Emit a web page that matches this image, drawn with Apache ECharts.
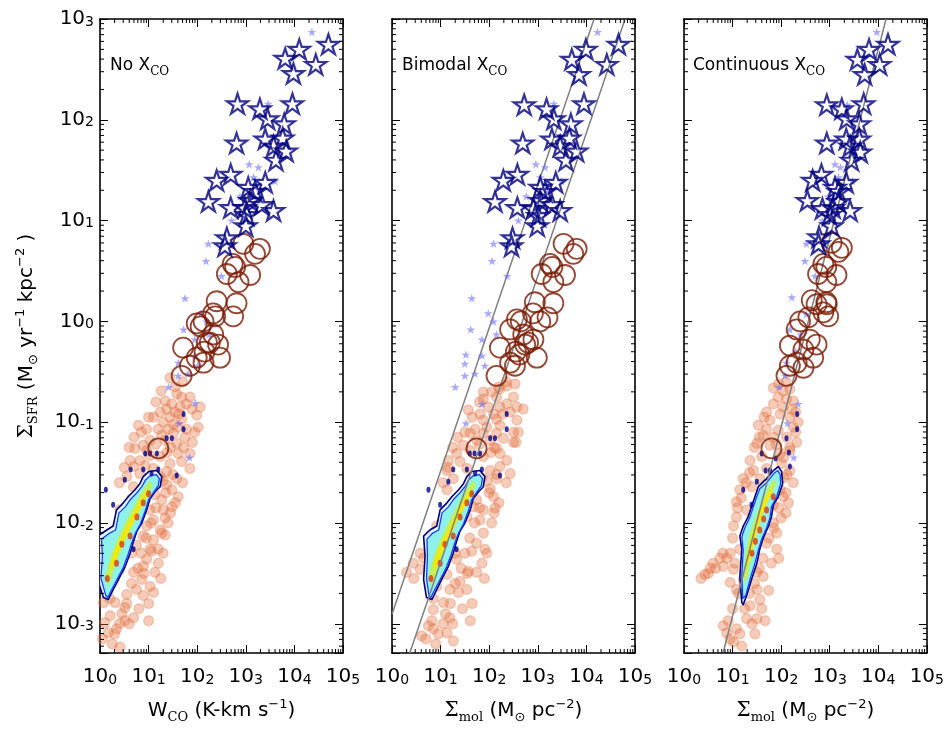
<!DOCTYPE html>
<html><head><meta charset="utf-8">
<script src="https://cdn.jsdelivr.net/npm/echarts@6.0.0/dist/echarts.min.js"></script>
<style>html,body{margin:0;padding:0;background:#fff}#c{width:947px;height:729px}</style>
</head><body><div id="c"></div>
<script>
// ---------- axes / ticks ----------
const X_MIN = 1, X_MAX = 1e5;
const Y_MIN = 0.000513, Y_MAX = 1000;
const X_TICK_EXP = [0, 1, 2, 3, 4, 5];
const Y_TICK_EXP = [-3, -2, -1, 0, 1, 2, 3];
const MINOR_MULT = [2, 3, 4, 5, 6, 7, 8, 9];
const X_MINOR_DECADES = [0, 1, 2, 3, 4];
const Y_MINOR_DECADES = [-4, -3, -2, -1, 0, 1, 2];
const PANEL_NAMES = ['No X', 'Bimodal X', 'Continuous X'];

// ---------- data (log10 x, log10 ΣSFR) ----------
// light orange: sub-kpc disk regions
const orangeLeft = [[1.44,-0.56],[1.26,-0.69],[1.58,-0.72],[1.68,-0.75],[1.34,-0.79],[1.48,-0.82],[1.78,-0.82],[1.65,-0.85],[1.37,-0.87],[1.89,-0.87],[2.06,-0.85],[1.24,-0.90],[1.54,-0.90],[1.44,-0.95],[1.30,-1.00],[1.51,-1.02],[1.10,-0.95],[1.68,-0.97],[1.99,-0.93],[0.79,-1.03],[0.96,-1.07],[1.20,-1.07],[1.41,-1.07],[1.61,-1.05],[1.78,-1.07],[2.02,-1.05],[1.27,-1.13],[1.51,-1.11],[1.03,-1.18],[1.75,-1.15],[0.89,-1.23],[1.34,-1.18],[1.58,-1.21],[0.72,-1.26],[0.96,-1.28],[1.72,-1.25],[0.62,-1.38],[0.82,-1.38],[1.03,-1.33],[1.24,-1.34],[1.61,-1.31],[1.85,-1.31],[0.69,-1.44],[0.93,-1.43],[1.10,-1.46],[1.44,-1.41],[1.68,-1.39],[1.37,-1.49],[1.85,-1.46],[0.55,-1.54],[0.82,-1.51],[1.24,-1.54],[1.58,-1.56],[0.69,-1.64],[0.96,-1.61],[1.37,-1.62],[1.13,-1.72],[1.48,-1.67],[0.65,-1.76],[0.89,-1.74],[1.27,-1.77],[1.61,-1.74],[1.48,-1.84],[1.30,-1.87],[1.03,-1.87],[0.41,-1.87],[0.79,-1.94],[1.10,-1.97],[1.34,-1.95],[0.96,-2.03],[1.24,-2.07],[0.89,-2.13],[1.10,-2.17],[1.34,-2.12],[0.75,-2.22],[1.03,-2.26],[1.27,-2.10],[0.96,-2.36],[1.20,-2.26],[0.89,-2.43],[1.06,-2.28],[1.13,-2.49],[0.69,-2.49],[0.86,-2.56],[1.03,-2.63],[0.75,-2.66],[1.10,-2.69],[0.89,-2.72],[0.55,-2.71],[0.31,-2.79],[0.51,-2.84],[0.21,-2.92],[0.69,-2.94],[1.00,-2.97],[0.51,-2.97],[0.34,-3.05],[0.10,-2.99],[0.17,-3.09],[0.41,-3.23],[0.21,-2.33],[0.41,-2.46],[0.14,-2.59],[0.48,-2.07],[0.75,-1.80],[0.07,-2.79],
  [1.20,-1.55],[1.35,-1.70],[1.15,-1.85],[1.05,-2.00],[0.95,-2.15],[0.85,-2.30],[0.78,-2.45],[0.65,-2.60],[0.55,-2.80],[0.45,-2.90],[0.30,-3.10],[0.60,-3.00],[0.80,-2.85],[1.20,-2.40],[1.30,-2.30],[1.40,-2.00],[1.45,-1.90],[1.55,-1.80],[1.70,-1.60],[1.90,-1.20],[1.95,-1.10],[1.55,-0.65],[1.70,-0.60],[1.15,-0.80],[1.00,-0.95],[0.85,-1.10],[0.70,-1.15],[0.60,-1.25],[0.50,-1.45],[0.40,-1.60],[0.30,-2.55],[0.20,-2.75],[0.05,-3.15],[0.25,-3.20],[1.15,-1.22],[1.38,-1.30],[1.50,-1.52],[1.30,-1.58],[1.62,-0.92],[1.85,-0.75],[1.45,-1.25],[1.10,-1.62],[0.90,-2.50],[0.65,-2.30],[1.25,-2.55],[1.00,-2.80],[0.40,-3.00]];
const orangeMid = [[1.88,-0.70],[2.05,-0.70],[2.22,-0.67],[2.36,-0.64],[2.53,-0.62],[1.88,-0.77],[2.15,-0.75],[2.36,-0.82],[2.57,-0.85],[2.22,-0.85],[1.98,-0.85],[1.81,-0.92],[2.09,-0.92],[2.43,-0.90],[2.70,-0.87],[1.57,-0.88],[1.88,-0.98],[2.15,-0.97],[1.71,-1.07],[1.95,-1.05],[2.22,-1.03],[2.57,-0.98],[1.61,-1.11],[1.88,-1.11],[2.15,-1.11],[2.50,-1.10],[1.74,-1.18],[2.02,-1.18],[2.29,-1.16],[1.47,-1.23],[2.50,-1.20],[1.33,-1.31],[1.61,-1.28],[2.15,-1.26],[1.16,-1.38],[1.40,-1.39],[1.88,-1.34],[2.22,-1.31],[2.36,-1.38],[1.13,-1.48],[1.54,-1.46],[2.02,-1.48],[2.22,-1.44],[1.26,-1.56],[1.74,-1.54],[2.15,-1.56],[2.43,-1.51],[1.13,-1.67],[1.54,-1.67],[2.02,-1.66],[1.74,-1.77],[2.09,-1.74],[1.67,-1.84],[1.88,-1.87],[2.12,-1.85],[1.54,-1.94],[1.81,-1.97],[0.92,-2.03],[0.78,-2.13],[1.88,-2.10],[1.74,-2.20],[1.91,-2.26],[1.64,-2.28],[0.58,-2.30],[0.44,-2.40],[0.30,-2.49],[1.06,-2.26],[1.33,-2.36],[0.58,-2.46],[1.13,-2.51],[1.57,-2.48],[1.74,-2.49],[1.40,-2.58],[0.92,-2.63],[1.19,-2.66],[1.54,-2.66],[1.37,-2.69],[0.78,-2.59],[1.06,-2.79],[0.85,-2.86],[1.19,-2.94],[0.82,-2.97],[1.61,-2.97],[0.85,-3.05],[0.61,-3.12],[1.26,-3.17],[0.75,-3.02],[1.13,-3.09],
  [1.85,-1.55],[2.00,-1.70],[1.80,-1.85],[1.70,-2.00],[1.60,-2.15],[1.50,-2.30],[1.42,-2.45],[1.30,-2.60],[1.20,-2.80],[1.10,-2.90],[0.95,-3.10],[1.25,-3.00],[1.45,-2.85],[1.85,-2.40],[1.95,-2.30],[2.05,-2.00],[2.10,-1.90],[2.20,-1.80],[2.35,-1.60],[2.55,-1.20],[2.60,-1.10],[2.20,-0.65],[2.35,-0.60],[1.80,-0.80],[1.65,-0.95],[1.50,-1.10],[1.35,-1.15],[1.25,-1.25],[1.15,-1.45],[1.05,-1.60],[0.95,-2.55],[0.85,-2.75],[0.70,-3.15],[0.90,-3.20],[1.80,-1.22],[2.03,-1.30],[2.15,-1.52],[1.95,-1.58],[2.27,-0.92],[2.50,-0.75],[2.10,-1.25],[1.75,-1.62],[1.55,-2.50],[1.30,-2.30],[1.90,-2.55],[1.65,-2.80],[1.05,-3.00],[0.45,-2.55],[0.65,-2.35]];
const orangeRight = [[1.84,-0.66],[2.04,-0.69],[2.18,-0.67],[1.94,-0.75],[2.11,-0.77],[2.25,-0.79],[1.84,-0.82],[2.04,-0.85],[2.22,-0.87],[1.70,-0.90],[1.98,-0.92],[2.18,-0.95],[1.77,-0.98],[1.53,-1.03],[1.70,-1.07],[1.94,-1.08],[2.25,-1.05],[1.63,-1.13],[1.84,-1.15],[2.11,-1.15],[2.32,-1.20],[1.50,-1.21],[1.77,-1.23],[2.18,-1.25],[1.36,-1.38],[1.60,-1.34],[1.98,-1.31],[2.18,-1.28],[1.43,-1.48],[1.70,-1.46],[2.01,-1.41],[2.18,-1.48],[1.22,-1.56],[1.56,-1.56],[1.84,-1.54],[1.15,-1.67],[1.39,-1.64],[1.63,-1.71],[1.98,-1.67],[2.04,-1.74],[1.08,-1.79],[1.29,-1.87],[1.84,-1.82],[1.08,-1.94],[1.02,-2.03],[1.84,-2.00],[1.91,-2.10],[1.70,-2.20],[1.91,-2.26],[1.29,-2.13],[1.15,-2.26],[0.88,-2.35],[0.74,-2.35],[0.60,-2.40],[0.54,-2.45],[0.43,-2.51],[0.81,-2.43],[1.02,-2.46],[1.36,-2.43],[1.50,-2.49],[1.63,-2.53],[1.22,-2.56],[0.95,-2.59],[1.50,-2.66],[1.74,-2.67],[1.08,-2.66],[1.56,-2.76],[1.36,-2.82],[0.91,-2.97],[0.81,-3.02],[1.29,-2.95],[1.50,-2.95],[1.67,-2.97],[1.08,-3.05],[0.88,-3.09],[1.46,-3.10],[1.19,-3.22],[1.02,-3.18],
  [2.05,-1.55],[2.10,-1.70],[1.95,-1.85],[1.85,-2.05],[1.75,-2.15],[1.62,-2.35],[1.55,-2.45],[1.45,-2.60],[1.35,-2.70],[1.25,-2.85],[1.15,-3.10],[1.40,-3.00],[1.60,-2.85],[1.80,-2.40],[1.95,-2.35],[2.00,-1.95],[2.10,-1.90],[2.15,-1.80],[2.25,-1.60],[2.30,-1.10],[2.35,-1.00],[1.95,-0.62],[2.10,-0.60],[1.65,-0.95],[1.55,-1.15],[1.45,-1.25],[1.35,-1.50],[1.28,-1.60],[1.18,-1.75],[1.10,-1.85],[1.00,-2.15],[0.95,-2.30],[1.05,-2.40],[1.12,-2.70],[1.00,-2.85],[0.95,-3.15],[1.90,-1.22],[2.05,-1.35],[2.12,-1.52],[1.95,-1.58],[2.30,-0.90],[1.70,-1.62],[1.40,-1.95],[1.30,-2.45],[0.65,-2.45],[0.50,-2.50],[0.35,-2.55],[0.80,-2.30]];

// dark red open circles
const bzkLeft = [[2.95,0.77],[3.29,0.72],[3.19,0.67],[2.73,0.57],[2.78,0.54],[2.61,0.47],[3.09,0.46],[2.85,0.39],[2.40,0.20],[2.81,0.18],[2.33,0.08],[2.74,0.05],[1.99,-0.02],[2.13,0.00],[2.37,0.05],[2.07,-0.05],[2.33,-0.13],[2.20,-0.21],[2.26,-0.21],[2.43,-0.23],[1.71,-0.26],[2.13,-0.41],[1.85,-0.44],[1.68,-0.54],[2.47,-0.36],[1.99,-0.36],[2.15,-0.30],[1.20,-1.26]];
const bzkMid = [[3.53,0.77],[3.80,0.72],[3.73,0.67],[3.25,0.57],[3.30,0.54],[3.08,0.47],[3.56,0.46],[3.32,0.39],[2.94,0.19],[3.32,0.18],[2.90,0.08],[3.20,0.04],[2.57,0.02],[2.65,0.00],[3.05,0.00],[2.43,-0.08],[2.70,-0.13],[2.91,-0.18],[2.74,-0.23],[2.22,-0.26],[2.43,-0.41],[2.53,-0.44],[2.15,-0.54],[2.98,-0.36],[2.55,-0.30],[2.62,-0.33],[2.80,-0.21],[1.74,-1.26]];
const bzkRight = [[3.04,0.78],[3.25,0.73],[3.18,0.69],[2.87,0.57],[2.93,0.54],[2.76,0.47],[3.14,0.46],[2.93,0.39],[2.63,0.21],[2.93,0.19],[2.87,0.09],[2.73,0.17],[2.94,0.17],[2.39,0.00],[2.56,0.04],[2.97,0.05],[2.32,-0.08],[2.59,-0.18],[2.73,-0.23],[2.18,-0.24],[2.46,-0.28],[2.66,-0.36],[2.32,-0.41],[2.18,-0.44],[2.46,-0.46],[2.11,-0.54],[1.80,-1.26]];

// small light-blue stars
const smgLeft = [[4.36,2.87],[3.46,2.16],[3.07,1.56],[3.26,1.53],[3.16,1.43],[3.60,1.39],[2.88,1.24],[3.29,1.29],[2.71,1.00],[2.23,0.77],[2.18,0.60],[2.50,0.45],[1.75,0.23],[1.72,-0.08],[1.61,-0.41],[1.61,-0.54],[1.41,-0.65],[1.96,-0.81],[1.63,-1.01],[1.84,-1.35],[2.08,0.08],[2.19,0.00],[1.95,-0.18],[2.25,-0.13],[1.95,-0.34],[2.01,-0.44],[1.81,-0.52]];
const smgMid = [[4.23,2.87],[3.33,2.16],[2.96,1.56],[3.15,1.53],[3.05,1.43],[3.49,1.39],[2.76,1.24],[3.18,1.29],[2.60,1.00],[2.09,0.77],[2.06,0.60],[2.37,0.45],[1.64,0.23],[1.98,0.08],[2.09,0.00],[1.62,-0.08],[1.85,-0.18],[2.15,-0.13],[1.52,-0.33],[1.50,-0.42],[1.85,-0.34],[1.50,-0.54],[1.91,-0.44],[1.71,-0.52],[1.30,-0.65],[1.85,-0.82],[1.52,-1.01]];
const smgRight = [[3.97,2.87],[3.36,2.15],[3.11,1.56],[3.22,1.53],[3.18,1.43],[3.47,1.39],[2.97,1.24],[2.85,1.00],[2.52,0.77],[2.49,0.60],[2.70,0.45],[2.22,0.24],[2.52,0.07],[2.18,-0.08],[2.11,-0.41],[2.08,-0.54],[1.96,-0.65],[2.35,-0.82],[2.13,-1.01],[2.26,-1.35],[2.40,-0.13],[2.30,-0.30]];

// navy open stars
const ulirgLeft = [[4.70,2.75],[4.10,2.70],[3.81,2.61],[4.44,2.55],[3.98,2.46],[2.83,2.16],[3.29,2.11],[3.96,2.16],[3.45,2.01],[3.79,1.96],[2.81,1.77],[3.40,1.81],[3.76,1.82],[3.57,1.74],[3.83,1.69],[3.62,1.60],[2.40,1.40],[2.69,1.46],[3.05,1.33],[3.40,1.38],[3.19,1.29],[2.23,1.19],[2.69,1.13],[2.98,1.13],[3.09,1.20],[3.33,1.16],[3.57,1.10],[3.02,1.06],[3.00,0.95],[2.61,0.83],[2.57,0.75]];
const ulirgMid = [[4.66,2.75],[3.99,2.70],[3.70,2.60],[4.42,2.55],[3.85,2.45],[2.72,2.15],[3.18,2.11],[3.95,2.16],[3.33,2.01],[3.68,1.96],[2.69,1.77],[3.29,1.81],[3.65,1.82],[3.46,1.74],[3.80,1.69],[3.58,1.60],[2.29,1.40],[2.58,1.46],[3.05,1.33],[3.37,1.38],[3.15,1.29],[2.12,1.19],[2.58,1.13],[2.91,1.12],[3.05,1.20],[3.29,1.16],[3.46,1.10],[3.01,1.05],[2.99,0.95],[2.48,0.83],[2.46,0.75]];
const ulirgRight = [[4.20,2.75],[3.81,2.70],[3.57,2.60],[4.03,2.55],[3.72,2.45],[2.94,2.15],[3.25,2.11],[3.70,2.16],[3.35,2.01],[3.61,1.96],[2.94,1.77],[3.34,1.81],[3.61,1.81],[3.42,1.74],[3.63,1.68],[3.45,1.60],[2.65,1.40],[2.83,1.46],[3.11,1.33],[3.34,1.38],[3.18,1.29],[2.54,1.20],[2.85,1.12],[3.07,1.13],[3.18,1.19],[3.42,1.10],[3.00,1.06],[3.04,0.95],[2.78,0.84],[2.77,0.77]];

// small navy contour islands
const dotsLeft = [[1.72,-0.92],[1.72,-1.07],[1.48,-1.16],[1.37,-1.16],[0.93,-1.31],[1.03,-1.31],[1.17,-1.31],[0.63,-1.47],[0.89,-1.47],[1.06,-1.51],[1.20,-1.47],[1.58,-1.53],[0.12,-1.67],[0.51,-1.57],[0.27,-1.82],[0.69,-2.26]];
const dotsMid = [[2.36,-0.92],[2.36,-1.07],[2.02,-1.16],[2.12,-1.16],[1.60,-1.31],[1.70,-1.31],[1.81,-1.31],[1.26,-1.47],[1.54,-1.47],[1.71,-1.51],[1.85,-1.47],[2.22,-1.53],[0.75,-1.67],[1.16,-1.59],[0.99,-1.82],[1.33,-2.26]];
const dotsRight = [[2.33,-0.92],[2.33,-1.07],[2.11,-1.16],[2.16,-1.30],[2.18,-1.44],[1.89,-1.36],[1.77,-1.48],[1.22,-1.67],[1.50,-1.59],[1.39,-1.82],[1.60,-1.31],[1.68,-1.48]];

// density contours (outer -> inner) and peaks
const contL1Left = [[0.07,-2.74],[-0.05,-2.56],[-0.02,-2.33],[-0.05,-2.13],[0.14,-2.07],[0.27,-2.03],[0.34,-1.87],[0.48,-1.80],[0.58,-1.74],[0.72,-1.67],[0.82,-1.61],[0.89,-1.54],[1.00,-1.49],[1.17,-1.48],[1.27,-1.54],[1.24,-1.64],[1.13,-1.69],[1.03,-1.76],[0.96,-1.87],[0.86,-2.00],[0.76,-2.08],[0.69,-2.18],[0.62,-2.30],[0.52,-2.43],[0.38,-2.56],[0.24,-2.69],[0.17,-2.76]];
const contL2Left = [[0.12,-2.72],[0.02,-2.55],[0.05,-2.33],[0.03,-2.16],[0.20,-2.10],[0.32,-2.07],[0.39,-1.90],[0.52,-1.84],[0.62,-1.77],[0.76,-1.70],[0.86,-1.64],[0.94,-1.57],[1.04,-1.53],[1.16,-1.52],[1.22,-1.56],[1.20,-1.63],[1.11,-1.69],[1.00,-1.77],[0.93,-1.88],[0.83,-2.01],[0.73,-2.10],[0.65,-2.20],[0.58,-2.31],[0.48,-2.44],[0.35,-2.56],[0.22,-2.68],[0.16,-2.74]];
const contL3Left = [[0.12,-2.50],[0.24,-2.30],[0.37,-2.15],[0.52,-2.00],[0.67,-1.86],[0.82,-1.72],[1.02,-1.58],[1.08,-1.62],[0.90,-1.80],[0.75,-1.94],[0.61,-2.09],[0.46,-2.24],[0.33,-2.39],[0.21,-2.58],[0.16,-2.62]];
const contL4Left = [[0.21,-2.42],[0.33,-2.26],[0.48,-2.11],[0.64,-1.95],[0.80,-1.81],[0.96,-1.68],[0.99,-1.71],[0.84,-1.85],[0.68,-1.99],[0.52,-2.14],[0.38,-2.29],[0.25,-2.46]];
const peaksLeft = [[0.62,-2.13],[0.45,-2.21],[0.89,-1.80],[0.76,-1.94],[0.34,-2.40],[1.00,-1.71],[0.15,-2.55]];

const contL1Mid = [[0.71,-2.74],[0.65,-2.56],[0.68,-2.33],[0.65,-2.13],[0.78,-2.07],[0.92,-2.03],[0.99,-1.87],[1.13,-1.80],[1.23,-1.74],[1.37,-1.67],[1.47,-1.61],[1.54,-1.54],[1.64,-1.49],[1.81,-1.48],[1.91,-1.54],[1.88,-1.64],[1.78,-1.69],[1.67,-1.76],[1.61,-1.87],[1.50,-2.00],[1.40,-2.08],[1.33,-2.18],[1.26,-2.30],[1.16,-2.43],[1.02,-2.56],[0.89,-2.69],[0.82,-2.76]];
const contL2Mid = [[0.76,-2.72],[0.71,-2.55],[0.73,-2.33],[0.72,-2.16],[0.84,-2.10],[0.96,-2.07],[1.03,-1.90],[1.16,-1.84],[1.26,-1.77],[1.40,-1.70],[1.50,-1.64],[1.58,-1.57],[1.68,-1.53],[1.80,-1.52],[1.86,-1.56],[1.84,-1.63],[1.75,-1.69],[1.64,-1.77],[1.57,-1.88],[1.47,-2.01],[1.37,-2.10],[1.29,-2.20],[1.22,-2.31],[1.12,-2.44],[0.99,-2.56],[0.86,-2.68],[0.80,-2.74]];
const contL3Mid = [[0.76,-2.50],[0.88,-2.30],[1.01,-2.15],[1.16,-2.00],[1.31,-1.86],[1.46,-1.72],[1.66,-1.58],[1.72,-1.62],[1.54,-1.80],[1.39,-1.94],[1.25,-2.09],[1.10,-2.24],[0.97,-2.39],[0.85,-2.58],[0.80,-2.62]];
const contL4Mid = [[0.85,-2.42],[0.97,-2.26],[1.12,-2.11],[1.28,-1.95],[1.44,-1.81],[1.60,-1.68],[1.63,-1.71],[1.48,-1.85],[1.32,-1.99],[1.16,-2.14],[1.02,-2.29],[0.89,-2.46]];
const peaksMid = [[1.26,-2.13],[1.09,-2.21],[1.54,-1.80],[1.40,-1.94],[0.99,-2.40],[1.64,-1.71],[0.80,-2.55]];

const contL1Right = [[1.19,-2.79],[1.15,-2.53],[1.19,-2.26],[1.15,-2.13],[1.22,-2.03],[1.32,-1.94],[1.39,-1.84],[1.46,-1.74],[1.53,-1.64],[1.70,-1.56],[1.84,-1.48],[1.94,-1.44],[2.01,-1.49],[2.03,-1.61],[1.94,-1.74],[1.84,-1.82],[1.80,-1.94],[1.74,-2.03],[1.63,-2.15],[1.56,-2.26],[1.50,-2.40],[1.39,-2.56],[1.29,-2.72],[1.22,-2.81]];
const contL2Right = [[1.21,-2.75],[1.19,-2.52],[1.22,-2.27],[1.19,-2.14],[1.25,-2.05],[1.35,-1.95],[1.42,-1.85],[1.49,-1.75],[1.56,-1.66],[1.72,-1.59],[1.85,-1.51],[1.93,-1.48],[1.98,-1.52],[1.99,-1.61],[1.91,-1.74],[1.80,-1.84],[1.77,-1.95],[1.70,-2.05],[1.60,-2.16],[1.53,-2.27],[1.46,-2.40],[1.36,-2.56],[1.27,-2.72]];
const contL3Right = [[1.22,-2.50],[1.27,-2.30],[1.35,-2.12],[1.45,-1.97],[1.55,-1.84],[1.66,-1.72],[1.84,-1.57],[1.90,-1.60],[1.76,-1.74],[1.64,-1.88],[1.55,-2.02],[1.46,-2.17],[1.38,-2.34],[1.31,-2.52],[1.27,-2.60]];
const contL4Right = [[1.29,-2.38],[1.35,-2.22],[1.44,-2.06],[1.54,-1.92],[1.65,-1.79],[1.80,-1.65],[1.83,-1.68],[1.70,-1.81],[1.59,-1.95],[1.50,-2.10],[1.42,-2.25],[1.35,-2.40]];
const peaksRight = [[1.56,-2.07],[1.47,-2.18],[1.70,-1.87],[1.64,-1.96],[1.84,-1.74],[1.40,-2.30]];

// grey fit lines (endpoints)
const lineMidA = [[0.00,-2.905],[4.158,3.0]];
const lineMidB = [[0.366,-3.29],[4.796,3.0]];
const lineRight = [[0.81,-3.28],[4.16,3.0]];

// ---------- layout & style ----------
const GRID_LEFT = [100, 392, 684];
const GRID_TOP = 19, GRID_W = 243, GRID_H = 638;
const LABEL_X = [110, 402, 693];
const FONT = 'DejaVu Sans';
const SERIF = 'DejaVu Serif';
const STAR_PATH = 'path://M100 0 L122.45 69.1 L195.11 69.1 L136.33 111.8 L158.78 180.9 L100 138.2 L41.22 180.9 L63.67 111.8 L4.89 69.1 L77.55 69.1 Z';
const CONTOUR_STYLES = [
  {fill: 'rgba(225,245,255,0.92)', stroke: '#00007a', lineWidth: 1.6},
  {fill: '#8ff2ea', stroke: '#1a3cff', lineWidth: 1.3},
  {fill: '#c4f050', stroke: 'rgba(0,0,0,0)', lineWidth: 0},
  {fill: '#ffe600', stroke: 'rgba(0,0,0,0)', lineWidth: 0}
];

const pow = p => [Math.pow(10, p[0]), Math.pow(10, p[1])];
const conv = a => a.map(pow);

const panels = [
  {orange: orangeLeft, bzk: bzkLeft, smg: smgLeft, ulirg: ulirgLeft, dots: dotsLeft, peaks: peaksLeft,
   contour: [contL1Left, contL2Left, contL3Left, contL4Left], lines: []},
  {orange: orangeMid, bzk: bzkMid, smg: smgMid, ulirg: ulirgMid, dots: dotsMid, peaks: peaksMid,
   contour: [contL1Mid, contL2Mid, contL3Mid, contL4Mid], lines: [lineMidA, lineMidB]},
  {orange: orangeRight, bzk: bzkRight, smg: smgRight, ulirg: ulirgRight, dots: dotsRight, peaks: peaksRight,
   contour: [contL1Right, contL2Right, contL3Right, contL4Right], lines: [lineRight]}
];

const X_MINOR = [], Y_MINOR = [];
X_MINOR_DECADES.forEach(d => MINOR_MULT.forEach(m => X_MINOR.push(m * Math.pow(10, d))));
Y_MINOR_DECADES.forEach(d => MINOR_MULT.forEach(m => { const v = m * Math.pow(10, d); if (v > Y_MIN && v < Y_MAX) Y_MINOR.push(v); }));

const tickRich = {
  b: {fontSize: 20, fontFamily: FONT, color: '#000', lineHeight: 20, padding: [8, 0, 0, 0], verticalAlign: 'bottom'},
  s: {fontSize: 14, fontFamily: FONT, color: '#000', lineHeight: 14, padding: [6, 0, 0, 0], verticalAlign: 'top'}
};
function tickFormatter(exps) {
  return function (v) {
    const l = Math.log10(v), e = Math.round(l);
    if (Math.abs(l - e) > 1e-6 || exps.indexOf(e) < 0) return '';
    return '{b|10}{s|' + e + '}';
  };
}
const nameRich = {
  t: {fontSize: 20, fontFamily: FONT, color: '#000', lineHeight: 26, verticalAlign: 'middle'},
  g: {fontSize: 20, fontFamily: SERIF, color: '#000', lineHeight: 26, verticalAlign: 'middle'},
  sub: {fontSize: 13, fontFamily: SERIF, color: '#000', lineHeight: 12, verticalAlign: 'bottom'},
  sun: {fontSize: 13, fontFamily: FONT, color: '#000', lineHeight: 12, verticalAlign: 'bottom'},
  sup: {fontSize: 13, fontFamily: FONT, color: '#000', lineHeight: 12, verticalAlign: 'top'}
};
const X_NAMES = ['{t|W}{sub|CO}{t| (K-km s}{sup|−1}{t|)}',
                 '{g|Σ}{sub|mol}{t| (M}{sun|⊙}{t| pc}{sup|−2}{t|)}',
                 '{g|Σ}{sub|mol}{t| (M}{sun|⊙}{t| pc}{sup|−2}{t|)}'];
const Y_NAME = '{g|Σ}{sub|SFR}{t| (M}{sun|⊙}{t| yr}{sup|−1}{t| kpc}{sup|−2}{t| )}';

const lineAx = {show: true, lineStyle: {color: '#000', width: 1.6}};
const majorTick = {show: true, inside: true, length: 8, lineStyle: {color: '#000', width: 1}};

const grids = [], xAxes = [], yAxes = [], series = [];
panels.forEach((d, i) => {
  grids.push({left: GRID_LEFT[i], top: GRID_TOP, width: GRID_W, height: GRID_H, show: false});
  xAxes.push({type: 'log', logBase: 10, gridIndex: i, position: 'bottom', min: X_MIN, max: X_MAX,
    axisLine: lineAx, axisTick: majorTick, splitLine: {show: false},
    axisLabel: {show: true, formatter: tickFormatter(X_TICK_EXP), rich: tickRich, margin: 14, showMinLabel: true, showMaxLabel: true},
    name: X_NAMES[i], nameLocation: 'middle', nameGap: 45, nameTextStyle: {rich: nameRich}});
  xAxes.push({type: 'log', logBase: 10, gridIndex: i, position: 'top', min: X_MIN, max: X_MAX,
    axisLine: lineAx, axisTick: majorTick, splitLine: {show: false}, axisLabel: {show: false}});
  yAxes.push({type: 'log', logBase: 10, gridIndex: i, position: 'left', min: Y_MIN, max: Y_MAX, splitNumber: 6,
    axisLine: lineAx, axisTick: majorTick, splitLine: {show: false},
    axisLabel: {show: i === 0, formatter: tickFormatter(Y_TICK_EXP), rich: tickRich, margin: 6, showMaxLabel: true},
    name: i === 0 ? Y_NAME : '', nameLocation: 'middle', nameGap: 60, nameTextStyle: {rich: nameRich}});
  yAxes.push({type: 'log', logBase: 10, gridIndex: i, position: 'right', min: Y_MIN, max: Y_MAX, splitNumber: 6,
    axisLine: lineAx, axisTick: majorTick, splitLine: {show: false}, axisLabel: {show: false}});

  const base = {xAxisIndex: 2 * i, yAxisIndex: 2 * i, silent: true, animation: false};
  series.push(Object.assign({}, base, {type: 'scatter', z: 1, data: conv(d.orange), symbol: 'circle', symbolSize: 10,
    itemStyle: {color: 'rgba(226,112,62,0.45)', borderColor: 'rgba(226,112,62,0.32)', borderWidth: 1.5}}));
  const levels = d.contour;
  series.push(Object.assign({}, base, {type: 'custom', z: 2, clip: true, data: [[1, 1]],
    renderItem: function (params, api) {
      if (params.dataIndex !== 0) return;
      return {type: 'group', children: levels.map((pts, k) => ({
        type: 'polygon', shape: {points: pts.map(p => api.coord(pow(p)))},
        style: {fill: CONTOUR_STYLES[k].fill, stroke: CONTOUR_STYLES[k].stroke, lineWidth: CONTOUR_STYLES[k].lineWidth, lineJoin: 'round'}
      }))};
    }}));
  series.push(Object.assign({}, base, {type: 'scatter', z: 3, data: conv(d.peaks), symbol: 'circle', symbolSize: [5, 7],
    itemStyle: {color: '#d83a10'}}));
  series.push(Object.assign({}, base, {type: 'scatter', z: 3, data: conv(d.dots), symbol: 'circle', symbolSize: [4, 6],
    itemStyle: {color: '#00008b'}}));
  d.lines.forEach(l => series.push(Object.assign({}, base, {type: 'line', z: 4, data: conv(l), symbol: 'none',
    lineStyle: {color: '#808080', width: 1.5}})));
  series.push(Object.assign({}, base, {type: 'scatter', z: 5, data: conv(d.smg), symbol: STAR_PATH, symbolKeepAspect: true,
    symbolSize: 9, itemStyle: {color: 'rgba(110,110,255,0.75)'}}));
  series.push(Object.assign({}, base, {type: 'scatter', z: 6, data: conv(d.bzk), symbol: 'circle', symbolSize: 20,
    itemStyle: {color: 'rgba(0,0,0,0)', borderColor: '#7a1c04', borderWidth: 1.8}}));
  series.push(Object.assign({}, base, {type: 'scatter', z: 7, data: conv(d.ulirg), symbol: STAR_PATH, symbolKeepAspect: true,
    symbolSize: 21, itemStyle: {color: 'rgba(0,0,0,0)', borderColor: '#00007f', borderWidth: 2.2}}));
  series.push(Object.assign({}, base, {type: 'custom', z: 10, clip: false, data: [[1, 1]],
    renderItem: function (params, api) {
      if (params.dataIndex !== 0) return;
      const ch = [];
      const st = {stroke: '#000', lineWidth: 1};
      Y_MINOR.forEach(v => {
        const a = api.coord([X_MIN, v]), b = api.coord([X_MAX, v]);
        ch.push({type: 'line', shape: {x1: a[0], y1: a[1], x2: a[0] + 4, y2: a[1]}, style: st});
        ch.push({type: 'line', shape: {x1: b[0] - 4, y1: b[1], x2: b[0], y2: b[1]}, style: st});
      });
      X_MINOR.forEach(v => {
        const a = api.coord([v, Y_MIN]), b = api.coord([v, Y_MAX]);
        ch.push({type: 'line', shape: {x1: a[0], y1: a[1], x2: a[0], y2: a[1] - 4}, style: st});
        ch.push({type: 'line', shape: {x1: b[0], y1: b[1], x2: b[0], y2: b[1] + 4}, style: st});
      });
      return {type: 'group', children: ch};
    }}));
});

const graphics = PANEL_NAMES.map((t, i) => ({
  type: 'text', left: LABEL_X[i], top: 57, z: 20,
  style: {text: '{a|' + t + '}{b|CO}', rich: {
    a: {fontSize: 17, fontFamily: FONT, fill: '#000', lineHeight: 24, verticalAlign: 'middle'},
    b: {fontSize: 12, fontFamily: SERIF, fill: '#000', lineHeight: 10, verticalAlign: 'bottom'}
  }}
}));

const chart = echarts.init(document.getElementById('c'), null, {renderer: 'canvas'});
chart.setOption({
  backgroundColor: '#fff',
  animation: false,
  grid: grids, xAxis: xAxes, yAxis: yAxes, series: series, graphic: graphics
});
</script></body></html>
